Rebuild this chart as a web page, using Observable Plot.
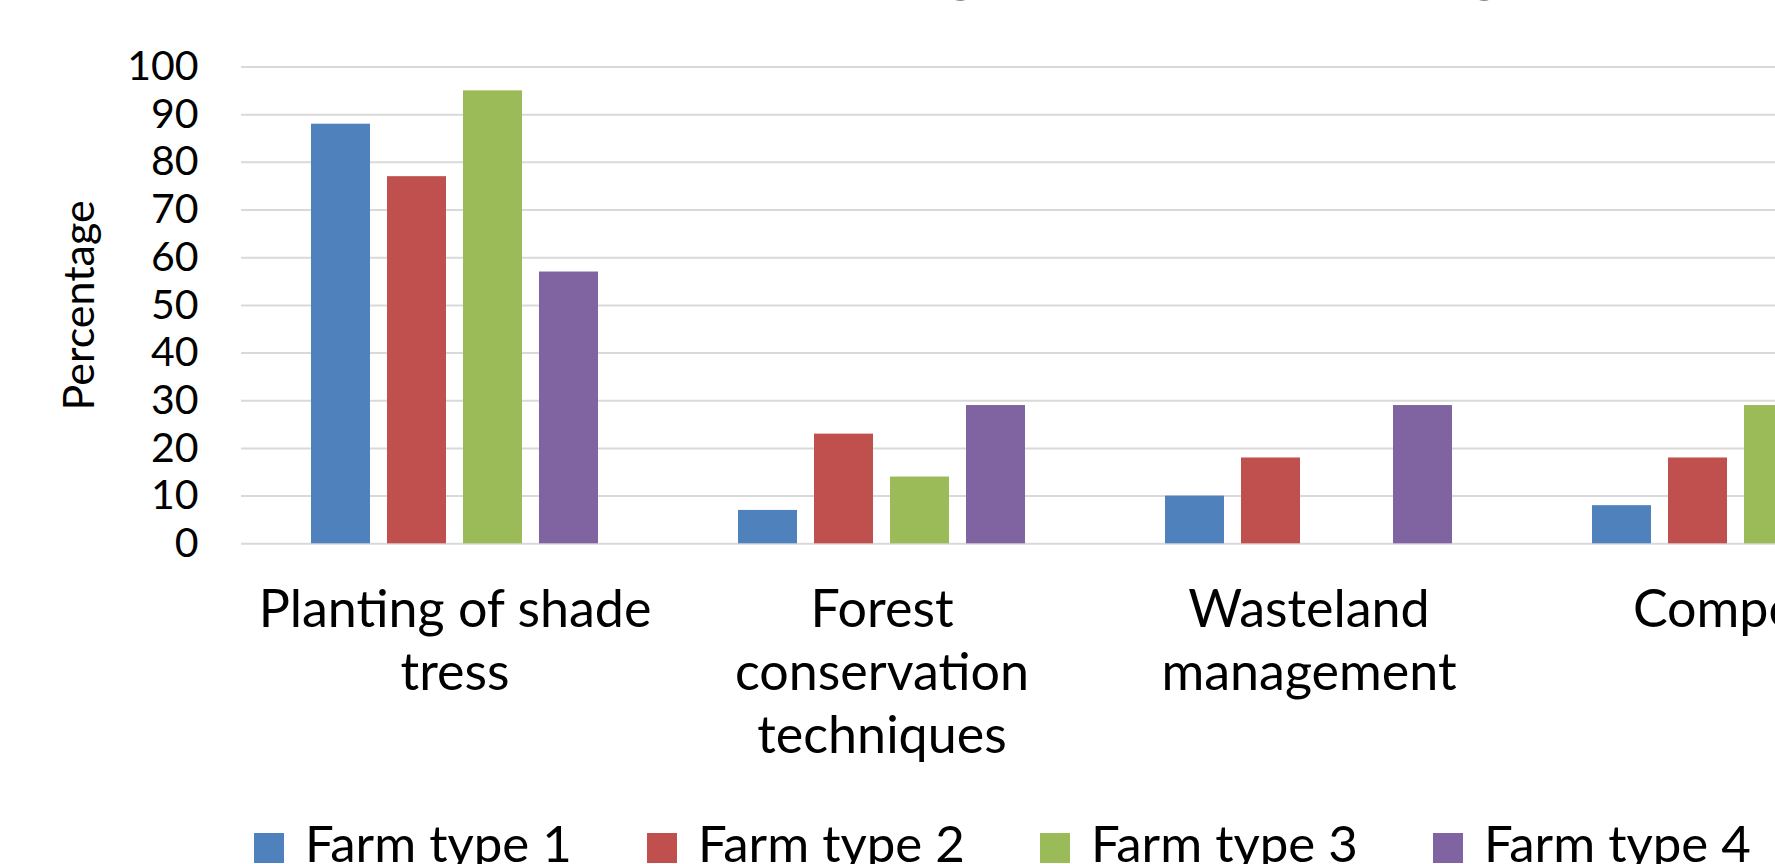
<!DOCTYPE html>
<html>
<head>
<meta charset="utf-8">
<script src="https://cdn.jsdelivr.net/npm/d3@7"></script>
<script src="https://cdn.jsdelivr.net/npm/@observablehq/plot@0.6"></script>
<style>
  html, body { margin: 0; padding: 0; background: #fff; overflow: hidden; width: 1775px; height: 864px; }
  #chart { position: relative; width: 1962px; height: 864px; font-family: Lato, "Open Sans", sans-serif; color: #000; }
  #title { position: absolute; left: 0; top: -72px; width: 1808px; text-align: center; font-size: 68px; line-height: 1; white-space: nowrap; }
  #plot { position: absolute; left: 0; top: 0; }
  #legend { position: absolute; left: 254px; top: 817px; display: flex; }
  .item { width: 393px; display: flex; align-items: center; font-size: 51px; line-height: 1; white-space: nowrap; }
  .swatch { width: 30px; height: 30px; margin-right: 21px; margin-top: 10px; flex: none; }
</style>
</head>
<body>
<div id="chart">
  <div id="title"></div>
  <div id="plot"></div>
  <div id="legend"></div>
</div>
<script>
// Chart title
const title = "Approaches related to Agroforestry Strategies";

// Categories (x groups) and their wrapped labels
const categories = ["Planting of shade tress", "Forest conservation techniques", "Wasteland management", "Compost"];
const categoryLabels = ["Planting of shade\ntress", "Forest\nconservation\ntechniques", "Wasteland\nmanagement", "Compost"];

// Series
const series = ["Farm type 1", "Farm type 2", "Farm type 3", "Farm type 4"];
const seriesColors = ["#4F81BD", "#C0504D", "#9BBB59", "#8064A2"];

// Percentages per series, in category order
const farmType1 = [88, 7, 10, 8];
const farmType2 = [77, 23, 18, 18];
const farmType3 = [95, 14, 0, 29];
const farmType4 = [57, 29, 29, 14];

// Y axis ticks
const yTicks = [0, 10, 20, 30, 40, 50, 60, 70, 80, 90, 100];
const yLabel = "Percentage";

const values = [farmType1, farmType2, farmType3, farmType4];
const rows = [];
categories.forEach((c, i) => {
  series.forEach((s, j) => rows.push({category: c, series: s, value: values[j][i]}));
});
const labelOf = new Map(categories.map((c, i) => [c, categoryLabels[i]]));

document.getElementById("title").textContent = title;

const chart = Plot.plot({
  width: 1962,
  height: 800,
  marginLeft: 240,
  marginRight: 12,
  marginTop: 66.5,
  marginBottom: 256.7,
  style: {fontFamily: "Lato, 'Open Sans', sans-serif", color: "#000", background: "transparent", maxWidth: "none", overflow: "visible"},
  fx: {domain: categories, padding: 0, label: null},
  x: {domain: series, paddingInner: 0.22, paddingOuter: 0.886, axis: null},
  y: {domain: [0, 100], label: null},
  color: {domain: series, range: seriesColors},
  marks: [
    Plot.ruleY(yTicks, {stroke: "#D9D9D9", strokeWidth: 2}),
    Plot.barY(rows, {fx: "category", x: "series", y: "value", fill: "series"}),
    Plot.axisY(yTicks, {tickSize: 0, tickPadding: 43, fontSize: 41, label: null}),
    Plot.axisFx({anchor: "bottom", tickSize: 0, tickPadding: 39, fontSize: 52, lineHeight: 1.21, tickFormat: (d) => labelOf.get(d), label: null}),
    Plot.text([yLabel], {frameAnchor: "left", textAnchor: "middle", rotate: -90, dx: -161, fontSize: 43, facetAnchor: "left"})
  ]
});
document.getElementById("plot").appendChild(chart);

// Legend built from the same series and colours
const legend = document.getElementById("legend");
series.forEach((s, i) => {
  const item = document.createElement("div");
  item.className = "item";
  const sw = document.createElement("span");
  sw.className = "swatch";
  sw.style.background = seriesColors[i];
  const label = document.createElement("span");
  label.textContent = s;
  item.append(sw, label);
  legend.appendChild(item);
});
</script>
</body>
</html>
